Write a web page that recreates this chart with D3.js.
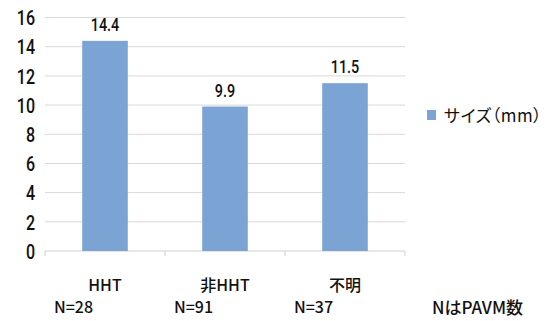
<!DOCTYPE html>
<html>
<head>
<meta charset="utf-8">
<script src="https://cdn.jsdelivr.net/npm/d3@7"></script>
<style>
  html, body { margin: 0; padding: 0; background: #fff; }
  svg { display: block; }
  .num { font-family: Roboto, "Liberation Sans", Arial, sans-serif; font-weight: 500; }
  .jp { font-family: "Noto Sans CJK JP", "Liberation Sans", sans-serif; font-weight: 500; }
  .legend-text { font-feature-settings: "palt"; font-weight: 400; letter-spacing: 0.5px; }
</style>
</head>
<body>
<svg id="chart" width="550" height="321"></svg>
<script>
// Mean PAVM size by group
const categories = ["HHT", "非HHT", "不明"];
const sizes = [14.4, 9.9, 11.5];
const counts = ["N=28", "N=91", "N=37"];
const yTicks = [0, 2, 4, 6, 8, 10, 12, 14, 16];
const seriesName = "サイズ（mm）";
const footNote = "NはPAVM数";

const svg = d3.select("#chart");
const barColor = "#7ba4d4";
const squeeze = 0.8; // horizontal compression for the condensed numerals

const x = d3.scaleBand()
  .domain(categories)
  .range([45, 405])
  .paddingInner(0.62)
  .paddingOuter(0.31);

const y = d3.scaleLinear()
  .domain([0, 16])
  .range([251, 17.5]);

// horizontal gridlines
svg.append("g")
  .selectAll("line")
  .data(yTicks.filter(d => d > 0))
  .join("line")
  .attr("x1", 45).attr("x2", 405)
  .attr("y1", d => y(d)).attr("y2", d => y(d))
  .attr("stroke", "#d8d8d8")
  .attr("stroke-width", 1);

// y axis labels, condensed
const yAxis = d3.axisLeft(y).tickValues(yTicks).tickSize(0).tickPadding(0);
const yg = svg.append("g")
  .attr("transform", "translate(35,0)")
  .call(yAxis);
yg.select(".domain").remove();
yg.selectAll(".tick text")
  .attr("class", "num")
  .attr("x", 0)
  .attr("dy", "0.36em")
  .attr("transform", `scale(${squeeze},1)`)
  .style("font-size", "20px")
  .attr("fill", "#111");

// x axis line with category boundary ticks
const step = x.step();
const boundaries = d3.range(categories.length + 1).map(i => 45 + i * step);
const xg = svg.append("g");
xg.append("line")
  .attr("x1", 45).attr("x2", 405)
  .attr("y1", y(0)).attr("y2", y(0))
  .attr("stroke", "#cfcfcf");
xg.selectAll("line.tick")
  .data(boundaries)
  .join("line")
  .attr("class", "tick")
  .attr("x1", d => d).attr("x2", d => d)
  .attr("y1", y(0)).attr("y2", y(0) + 5)
  .attr("stroke", "#cfcfcf");

// bars
svg.append("g")
  .selectAll("rect")
  .data(sizes)
  .join("rect")
  .attr("x", (d, i) => x(categories[i]))
  .attr("width", x.bandwidth())
  .attr("y", d => y(d))
  .attr("height", d => y(0) - y(d))
  .attr("fill", barColor);

// value labels, condensed
svg.append("g")
  .selectAll("text")
  .data(sizes)
  .join("text")
  .attr("class", "num")
  .attr("transform", (d, i) =>
    `translate(${x(categories[i]) + x.bandwidth() / 2},${y(d) - 10}) scale(${squeeze},1)`)
  .attr("text-anchor", "middle")
  .style("font-size", "18px")
  .attr("fill", "#111")
  .text(d => d.toFixed(1));

// category labels
svg.append("g")
  .selectAll("text")
  .data(categories)
  .join("text")
  .attr("class", "jp")
  .attr("x", d => x(d) + x.bandwidth() / 2)
  .attr("y", 291)
  .attr("text-anchor", "middle")
  .style("font-size", "16px")
  .attr("fill", "#111")
  .text(d => d);

// sample counts
svg.append("g")
  .selectAll("text")
  .data(counts)
  .join("text")
  .attr("class", "jp")
  .attr("x", (d, i) => x(categories[i]) + x.bandwidth() / 2 - 51)
  .attr("y", 313)
  .style("font-size", "16px")
  .attr("fill", "#111")
  .text(d => d);

svg.append("text")
  .attr("class", "jp")
  .attr("x", 432)
  .attr("y", 314)
  .style("font-size", "17px")
  .attr("fill", "#111")
  .text(footNote);

// legend
const lg = svg.append("g").attr("transform", "translate(427,110)");
lg.append("rect").attr("width", 9).attr("height", 10).attr("fill", barColor);
lg.append("text")
  .attr("class", "jp legend-text")
  .attr("x", 17)
  .attr("y", 11.5)
  .style("font-size", "17px")
  .attr("fill", "#111")
  .text(seriesName);
</script>
</body>
</html>
